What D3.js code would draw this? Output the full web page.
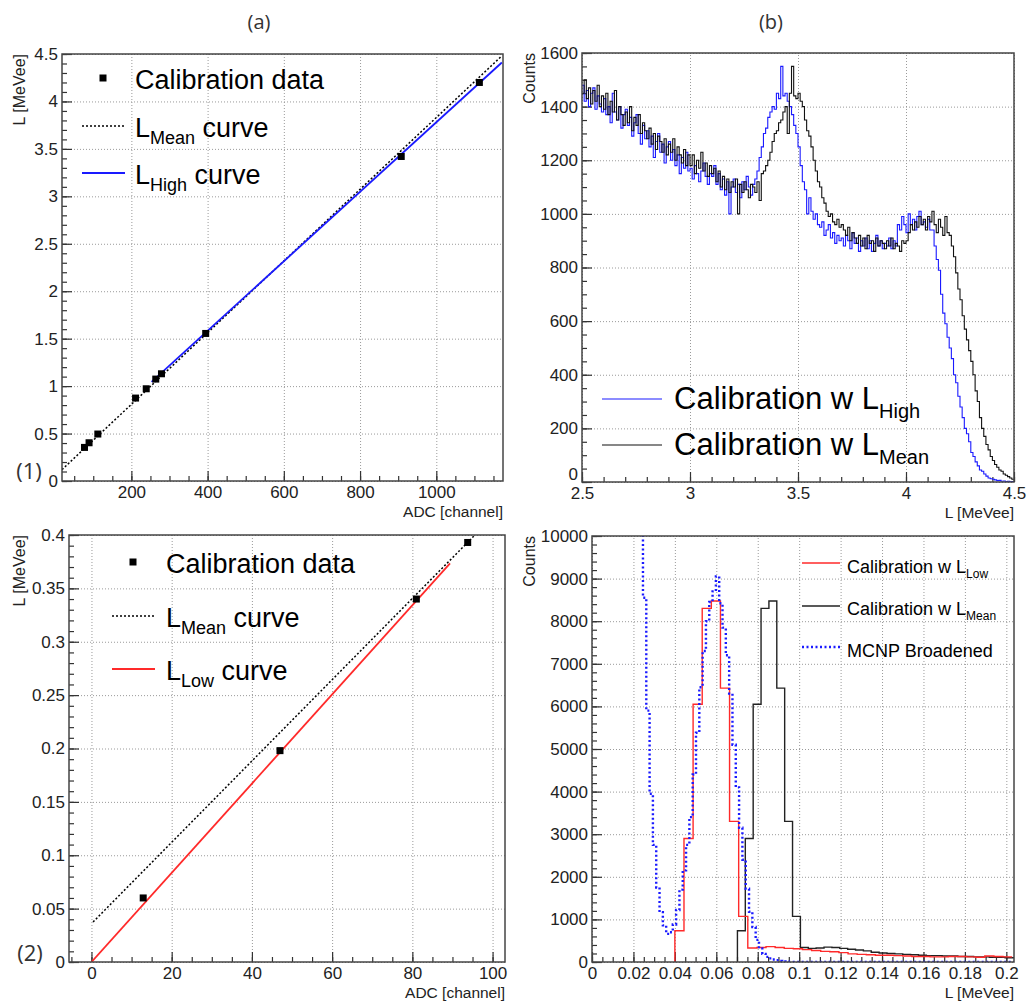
<!DOCTYPE html>
<html>
<head>
<meta charset="utf-8">
<script src="https://cdn.jsdelivr.net/npm/d3@7"></script>
<style>
  body { margin: 0; background: #fff; }
  svg { font-family: "Liberation Sans", Arial, sans-serif; }
</style>
</head>
<body>
<svg width="1029" height="1006"></svg>
<script>
// ---------- data ----------

// (a)(1) calibration points, ADC channel -> L [MeVee]
const calHighAdc = [77, 89, 112, 211, 239, 264, 279, 395, 908, 1113];
const calHighL   = [0.354, 0.403, 0.495, 0.874, 0.972, 1.074, 1.13, 1.555, 3.42, 4.20];
// curve end points
const meanHighAdc = [18, 1172];
const meanHighL   = [0.12, 4.48];
const highAdc     = [253, 1172];
const highL       = [1.045, 4.41];

// (a)(2)
const calLowAdc = [12.9, 47.0, 81.0, 93.8];
const calLowL   = [0.060, 0.198, 0.340, 0.393];
const meanLowAdc = [0.4, 95.6];
const meanLowL   = [0.0375, 0.400];
const lowAdc     = [0, 89.4];
const lowL       = [0.0, 0.3735];

// (b)(1) spectra, 0.01 MeVee bins starting at 2.5
const specStart = 2.5, specBin = 0.01;
const specHigh = [
  1480, 1420, 1460, 1400, 1450, 1470, 1390, 1440, 1410, 1380,
  1430, 1370, 1400, 1340, 1450, 1380, 1350, 1400, 1320, 1370,
  1390, 1330, 1360, 1290, 1340, 1370, 1300, 1260, 1330, 1280,
  1310, 1250, 1290, 1210, 1270, 1300, 1230, 1260, 1190, 1250,
  1270, 1200, 1240, 1180, 1220, 1150, 1210, 1170, 1230, 1160,
  1170, 1130, 1180, 1150, 1120, 1160, 1190, 1140, 1110, 1150,
  1140, 1180, 1110, 1150, 1090, 1130, 1070, 1120, 1000, 1100,
  1130, 1080, 1110, 1060, 1120, 1090, 1140, 1100, 1070, 1110,
  1130, 1160, 1210, 1250, 1300, 1320, 1360, 1380, 1400, 1390,
  1450, 1430, 1550, 1440, 1450, 1420, 1400, 1370, 1330, 1300,
  1250, 1180, 1120, 1090, 1000, 1060, 1010, 980, 1000, 960,
  950, 970, 920, 940, 960, 910, 930, 890, 920, 900,
  910, 880, 920, 900, 870, 930, 890, 910, 860, 900,
  880, 910, 870, 900, 860, 890, 920, 880, 900, 870,
  890, 880, 910, 870, 900, 880, 960, 940, 990, 960,
  930, 1000, 960, 980, 940, 990, 1010, 960, 970, 950,
  980, 940, 940, 880, 830, 790, 700, 630, 590, 540,
  500, 460, 400, 370, 320, 280, 240, 200, 180, 150,
  110, 95, 75, 60, 45, 40, 30, 22, 15, 12,
  10, 8, 5, 6, 3, 4, 2, 3, 1, 2
];
const specMean = [
  1450, 1500, 1430, 1470, 1410, 1460, 1420, 1480, 1400, 1440,
  1390, 1450, 1370, 1420, 1380, 1460, 1350, 1400, 1370, 1330,
  1380, 1340, 1400, 1310, 1360, 1330, 1370, 1300, 1340, 1310,
  1280, 1320, 1260, 1300, 1240, 1290, 1270, 1230, 1280, 1220,
  1260, 1230, 1280, 1200, 1250, 1220, 1190, 1240, 1180, 1220,
  1180, 1220, 1150, 1200, 1170, 1230, 1160, 1190, 1140, 1180,
  1150, 1170, 1120, 1160, 1100, 1140, 1090, 1130, 1080, 1120,
  1100, 1130, 1000, 1110, 1080, 1120, 1090, 1060, 1110, 1100,
  1080, 1120, 1050, 1150, 1160, 1180, 1200, 1230, 1270, 1300,
  1310, 1340, 1350, 1380, 1400, 1300, 1450, 1550, 1440, 1430,
  1450, 1420, 1400, 1350, 1310, 1290, 1250, 1200, 1160, 1120,
  1100, 1060, 1040, 1010, 990, 1000, 970, 960, 980, 950,
  960, 940, 920, 950, 900, 930, 910, 890, 920, 880,
  910, 870, 920, 890, 900, 860, 910, 880, 900, 890,
  870, 900, 880, 910, 870, 890, 880, 860, 900, 890,
  900, 930, 960, 940, 970, 950, 990, 960, 980, 940,
  990, 970, 1010, 960, 930, 980, 950, 920, 990, 930,
  920, 880, 840, 780, 720, 680, 620, 570, 530, 490,
  450, 400, 340, 300, 240, 200, 170, 140, 120, 95,
  80, 65, 55, 45, 40, 30, 25, 20, 15, 10
];

// (b)(2) low-energy spectra
const lowStart = 0.0400, lowBin = 0.0044;
const lowCounts = [
  735, 2900, 6050, 8300, 8475, 6430, 3300, 1070, 330,
  340, 360, 340, 320, 310, 290, 270, 250, 240, 220,
  190, 180, 170, 160, 160, 150, 140, 130, 130, 120,
  120, 130, 130, 120, 110, 140, 130, 120
];
const meanStart = 0.0702, meanBin = 0.0038;
const meanCounts = [
  735, 2900, 6050, 8300, 8475, 6430, 3300, 1070, 340,
  320, 330, 350, 340, 320, 300, 280, 260, 230, 210,
  200, 190, 180, 170, 160, 150, 150, 140, 140, 130,
  130, 120, 120, 110, 110, 100, 100
];
const mcnpStart = 0.0214, mcnpBin = 0.0016;
const mcnpCounts = [
  10500, 10500, 8550, 5900, 3950, 2750, 1750, 1170, 860, 660,
  700, 880, 1220, 1700, 2150, 2750, 3400, 4400, 5380, 6450,
  7300, 8000, 8450, 8700, 9050, 8420, 7850, 7200, 6300, 5100,
  4100, 3150, 2400, 1720, 1180, 820, 520, 320, 190, 120,
  85, 60, 45, 25, 12, 5
];

// tick labels
const p1XTicks = [200, 400, 600, 800, 1000];
const p1YTicks = [0, 0.5, 1, 1.5, 2, 2.5, 3, 3.5, 4, 4.5];
const p2XTicks = [2.5, 3, 3.5, 4, 4.5];
const p2YTicks = [0, 200, 400, 600, 800, 1000, 1200, 1400, 1600];
const p3XTicks = [0, 20, 40, 60, 80, 100];
const p3YTicks = [0, 0.05, 0.1, 0.15, 0.2, 0.25, 0.3, 0.35, 0.4];
const p4XTicks = [0, 0.02, 0.04, 0.06, 0.08, 0.1, 0.12, 0.14, 0.16, 0.18, 0.2];
const p4YTicks = [0, 1000, 2000, 3000, 4000, 5000, 6000, 7000, 8000, 9000, 10000];

// ---------- drawing ----------
const svg = d3.select("svg");
const BLUE = "#1a1aff", RED = "#ff2a2a";

function makePanel(id, box, xDomain, yDomain) {
  const [x0, y0, x1, y1] = box;
  const w = x1 - x0, h = y1 - y0;
  const g = svg.append("g").attr("transform", `translate(${x0},${y0})`);
  svg.append("clipPath").attr("id", id)
    .append("rect").attr("width", w).attr("height", h);
  const x = d3.scaleLinear().domain(xDomain).range([0, w]);
  const y = d3.scaleLinear().domain(yDomain).range([h, 0]);
  return {id, g, x, y, w, h};
}

function drawAxes(p, xMajor, xMinor, yMajor, yMinor) {
  const noDomain = s => s.select(".domain").remove();
  // dotted grid
  p.g.append("g").attr("transform", `translate(0,${p.h})`)
    .call(d3.axisBottom(p.x).tickValues(xMajor).tickSize(-p.h).tickFormat(""))
    .call(noDomain)
    .selectAll("line").attr("stroke", "#9a9a9a").attr("stroke-dasharray", "1,2");
  p.g.append("g")
    .call(d3.axisLeft(p.y).tickValues(yMajor).tickSize(-p.w).tickFormat(""))
    .call(noDomain)
    .selectAll("line").attr("stroke", "#9a9a9a").attr("stroke-dasharray", "1,2");

  // minor ticks (inside)
  p.g.append("g").attr("transform", `translate(0,${p.h})`)
    .call(d3.axisBottom(p.x).tickValues(xMinor).tickSize(-5).tickFormat(""))
    .call(noDomain)
    .selectAll("line").attr("stroke", "#333").attr("stroke-width", 1.2);
  p.g.append("g")
    .call(d3.axisLeft(p.y).tickValues(yMinor).tickSize(-5).tickFormat(""))
    .call(noDomain)
    .selectAll("line").attr("stroke", "#333").attr("stroke-width", 1.2);

  // major ticks + labels
  const xa = p.g.append("g").attr("transform", `translate(0,${p.h})`)
    .call(d3.axisBottom(p.x).tickValues(xMajor).tickSizeInner(-10).tickSizeOuter(0)
      .tickPadding(5).tickFormat(d3.format("~g")))
    .call(noDomain);
  const ya = p.g.append("g")
    .call(d3.axisLeft(p.y).tickValues(yMajor).tickSizeInner(-10).tickSizeOuter(0)
      .tickPadding(4).tickFormat(d3.format("~g")))
    .call(noDomain);
  [xa, ya].forEach(a => {
    a.selectAll("line").attr("stroke", "#333").attr("stroke-width", 1.2);
    a.selectAll("text").attr("font-size", 17).attr("fill", "#222")
      .attr("font-family", "Liberation Sans, Arial, sans-serif");
  });
  return ya;
}

function drawFrame(p) {
  p.g.append("rect").attr("width", p.w).attr("height", p.h)
    .attr("fill", "none").attr("stroke", "#444").attr("stroke-width", 1.5);
}

function curve(p, xs, ys, color, dash, width) {
  p.g.append("path")
    .attr("clip-path", `url(#${p.id})`)
    .attr("d", d3.line().x(d => p.x(d[0])).y(d => p.y(d[1]))(d3.zip(xs, ys)))
    .attr("fill", "none").attr("stroke", color)
    .attr("stroke-width", width).attr("stroke-dasharray", dash);
}

function markers(p, xs, ys) {
  p.g.selectAll(null).data(d3.zip(xs, ys)).join("rect")
    .attr("x", d => p.x(d[0]) - 3.5).attr("y", d => p.y(d[1]) - 3.5)
    .attr("width", 7).attr("height", 7).attr("fill", "#000");
}

function hist(p, start, bin, counts, color, opts) {
  const pts = [];
  if (opts.fromZero) pts.push([start, 0]);
  counts.forEach((c, i) => {
    pts.push([start + i * bin, c]);
    pts.push([start + (i + 1) * bin, c]);
  });
  if (opts.tailTo) {
    pts.push([start + counts.length * bin, 0]);
    pts.push([opts.tailTo, 0]);
  }
  p.g.append("path")
    .attr("clip-path", `url(#${p.id})`)
    .attr("d", d3.line().x(d => p.x(d[0])).y(d => p.y(d[1])).curve(d3.curveLinear)(pts))
    .attr("fill", "none").attr("stroke", color)
    .attr("stroke-width", opts.width || 1.2)
    .attr("stroke-dasharray", opts.dash || null);
}

// legend text with a subscript: parts = [main, sub, rest]
function legendText(g, x, y, size, subSize, drop, parts) {
  const t = g.append("text").attr("x", x).attr("y", y)
    .attr("font-size", size).attr("fill", "#000");
  t.append("tspan").text(parts[0]);
  if (parts[1]) {
    t.append("tspan").attr("font-size", subSize).attr("dy", drop).text(parts[1]);
    if (parts[2]) t.append("tspan").attr("dy", -drop).text(parts[2]);
  }
}

// ---- panel (a)(1) ----
const p1 = makePanel("c1", [62, 54, 503, 481], [18, 1175], [0, 4.5]);
drawAxes(p1, p1XTicks, d3.range(50, 1175, 50), p1YTicks, d3.range(0, 4.51, 0.1));
curve(p1, meanHighAdc, meanHighL, "#000", "2,2", 1.5);
curve(p1, highAdc, highL, BLUE, null, 1.8);
markers(p1, calHighAdc, calHighL);
drawFrame(p1);

// ---- panel (b)(1) ----
const p2 = makePanel("c2", [582, 53, 1014, 482], [2.5, 4.5], [0, 1600]);
const p2y = drawAxes(p2, p2XTicks, d3.range(2.5, 4.51, 0.1), p2YTicks, d3.range(0, 1601, 50));
// the "0" sits just above the "2.5" label here
p2y.selectAll("text").filter(d => d === 0).attr("dy", "-0.15em");
hist(p2, specStart, specBin, specHigh, BLUE, {width: 1.1});
hist(p2, specStart, specBin, specMean, "#111", {width: 1.1});
drawFrame(p2);

// ---- panel (a)(2) ----
const p3 = makePanel("c3", [69, 535, 505, 962], [-5.6, 103.1], [0, 0.4]);
drawAxes(p3, p3XTicks, d3.range(-5, 103.1, 5), p3YTicks, d3.range(0, 0.401, 0.01));
curve(p3, meanLowAdc, meanLowL, "#000", "2,2", 1.5);
curve(p3, lowAdc, lowL, RED, null, 1.8);
markers(p3, calLowAdc, calLowL);
drawFrame(p3);

// ---- panel (b)(2) ----
const p4 = makePanel("c4", [592, 536, 1014, 962], [0, 0.2037], [0, 10000]);
drawAxes(p4, p4XTicks, d3.range(0, 0.2037, 0.005), p4YTicks, d3.range(0, 10001, 200));
hist(p4, meanStart, meanBin, meanCounts, "#222", {fromZero: true, width: 1.4});
hist(p4, lowStart, lowBin, lowCounts, RED, {fromZero: true, width: 1.4});
hist(p4, mcnpStart, mcnpBin, mcnpCounts, BLUE, {tailTo: 0.2037, width: 2.4, dash: "2,2.5"});
drawFrame(p4);

// ---- axis titles ----
function titles(p, left, xt, yt) {
  p.g.append("text").attr("x", p.w).attr("y", p.h + 36)
    .attr("text-anchor", "end").attr("font-size", 15.5).attr("fill", "#222").text(xt);
  p.g.append("text")
    .attr("transform", `translate(${left},0) rotate(-90)`)
    .attr("text-anchor", "end").attr("font-size", 16).attr("fill", "#222").text(yt);
}
titles(p1, -37, "ADC [channel]", "L [MeVee]");
titles(p2, -47, "L [MeVee]", "Counts");
titles(p3, -44, "ADC [channel]", "L [MeVee]");
titles(p4, -57, "L [MeVee]", "Counts");

// ---- legends ----
// (a)(1)
p1.g.append("rect").attr("x", 41 - 3.5).attr("y", 24 - 3.5).attr("width", 7).attr("height", 7);
legendText(p1.g, 73, 35, 27, 18, 7, ["Calibration data"]);
p1.g.append("line").attr("x1", 20).attr("x2", 63).attr("y1", 72).attr("y2", 72)
  .attr("stroke", "#000").attr("stroke-width", 1.5).attr("stroke-dasharray", "2,2");
legendText(p1.g, 73, 83, 27, 18, 7, ["L", "Mean", " curve"]);
p1.g.append("line").attr("x1", 20).attr("x2", 63).attr("y1", 119).attr("y2", 119)
  .attr("stroke", BLUE).attr("stroke-width", 1.8);
legendText(p1.g, 73, 130, 27, 18, 7, ["L", "High", " curve"]);

// (a)(2)
p3.g.append("rect").attr("x", 64 - 3.5).attr("y", 27 - 3.5).attr("width", 7).attr("height", 7);
legendText(p3.g, 97, 38, 27, 18, 7, ["Calibration data"]);
p3.g.append("line").attr("x1", 43).attr("x2", 86).attr("y1", 81).attr("y2", 81)
  .attr("stroke", "#000").attr("stroke-width", 1.5).attr("stroke-dasharray", "2,2");
legendText(p3.g, 97, 92, 27, 18, 7, ["L", "Mean", " curve"]);
p3.g.append("line").attr("x1", 43).attr("x2", 86).attr("y1", 134).attr("y2", 134)
  .attr("stroke", RED).attr("stroke-width", 1.8);
legendText(p3.g, 97, 145, 27, 18, 7, ["L", "Low", " curve"]);

// (b)(1)
p2.g.append("line").attr("x1", 20).attr("x2", 80).attr("y1", 346).attr("y2", 346)
  .attr("stroke", BLUE).attr("stroke-width", 1.2);
legendText(p2.g, 92, 356, 31, 20, 9, ["Calibration w L", "High"]);
p2.g.append("line").attr("x1", 20).attr("x2", 80).attr("y1", 392).attr("y2", 392)
  .attr("stroke", "#111").attr("stroke-width", 1.2);
legendText(p2.g, 92, 402, 31, 20, 9, ["Calibration w L", "Mean"]);

// (b)(2)
p4.g.append("line").attr("x1", 210).attr("x2", 248).attr("y1", 27).attr("y2", 27)
  .attr("stroke", RED).attr("stroke-width", 1.4);
legendText(p4.g, 255, 37, 18, 12, 5, ["Calibration w L", "Low"]);
p4.g.append("line").attr("x1", 210).attr("x2", 248).attr("y1", 70).attr("y2", 70)
  .attr("stroke", "#222").attr("stroke-width", 1.4);
legendText(p4.g, 255, 79, 18, 12, 5, ["Calibration w L", "Mean"]);
p4.g.append("line").attr("x1", 210).attr("x2", 248).attr("y1", 111).attr("y2", 111)
  .attr("stroke", BLUE).attr("stroke-width", 2.4).attr("stroke-dasharray", "2,2.5");
legendText(p4.g, 255, 121, 18, 12, 5, ["MCNP Broadened"]);

// ---- panel labels ----
const lab = (x, y, s, t) => svg.append("text").attr("x", x).attr("y", y)
  .attr("text-anchor", "middle").attr("font-family", "Open Sans, Noto Sans, sans-serif")
  .attr("font-size", s).attr("fill", "#333").text(t);
lab(259, 29, 20, "(a)");
lab(771, 29, 20, "(b)");
lab(29, 479, 22, "(1)");
lab(30, 961, 22, "(2)");
</script>
</body>
</html>
